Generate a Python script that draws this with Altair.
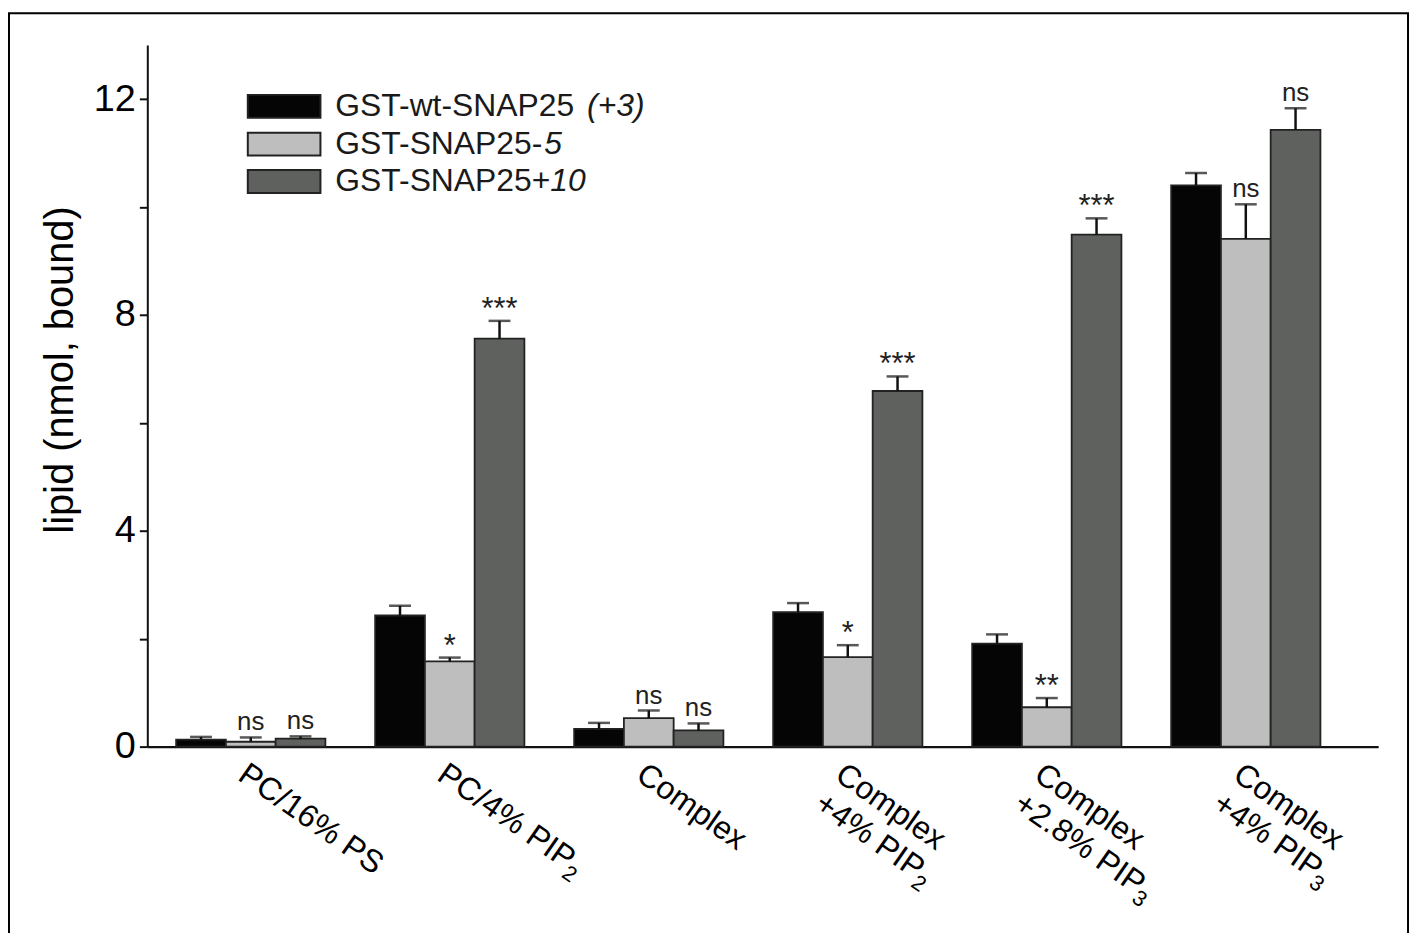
import altair as alt
import pandas as pd

# ---- data ----
groups = ["PC/16% PS", "PC/4% PIP2", "Complex", "Complex +4% PIP2",
          "Complex +2.8% PIP3", "Complex +4% PIP3"]
label_line1 = ["PC/16% PS", "PC/4% PIP", "Complex", "Complex", "Complex", "Complex"]
label_line2 = ["", "", "", "+4% PIP", "+2.8% PIP", "+4% PIP"]
label_sub = ["", "2", "", "2", "3", "3"]
label_sub_line = [0, 1, 0, 2, 2, 2]

series = ["GST-wt-SNAP25 (+3)", "GST-SNAP25-5", "GST-SNAP25+10"]
colors = ["#050505", "#bebebe", "#5f615f"]

values_wt = [0.13, 2.43, 0.33, 2.49, 1.91, 10.40]
err_wt = [0.05, 0.18, 0.11, 0.17, 0.17, 0.23]
values_m5 = [0.09, 1.58, 0.53, 1.66, 0.73, 9.41]
err_m5 = [0.08, 0.07, 0.14, 0.22, 0.17, 0.64]
values_p10 = [0.15, 7.56, 0.30, 6.59, 9.49, 11.43]
err_p10 = [0.04, 0.33, 0.13, 0.27, 0.30, 0.40]

sig_wt = ["", "", "", "", "", ""]
sig_m5 = ["ns", "*", "ns", "*", "**", "ns"]
sig_p10 = ["ns", "***", "ns", "***", "***", "ns"]

legend_main = ["GST-wt-SNAP25 ", "GST-SNAP25-", "GST-SNAP25+"]
legend_ital = ["(+3)", "5", "10"]

y_ticks = [0, 2, 4, 6, 8, 10, 12]

# ---- build table ----
rows = []
for s, vals, errs, sigs in zip(series, [values_wt, values_m5, values_p10],
                               [err_wt, err_m5, err_p10], [sig_wt, sig_m5, sig_p10]):
    for g, v, e, t in zip(groups, vals, errs, sigs):
        rows.append({"group": g, "series": s, "value": v, "top": v + e, "sig": t,
                     "star": t.startswith("*")})
df = pd.DataFrame(rows)

FONT = "Liberation Sans"
LABEL_FS = 32
LINE_H = 36
BASE1 = 25

# Arial / Liberation Sans advance widths (1/1000 em) for label layout
ADV = {"P": 667, "C": 722, "/": 278, "4": 556, "%": 889, " ": 278, "I": 278,
       "+": 584, "2": 556, ".": 278, "8": 556}


def text_width(s, fs):
    return sum(ADV.get(ch, 556) for ch in s) * fs / 1000.0


x_enc = alt.X(
    "group:N", sort=groups,
    scale=alt.Scale(domain=groups, paddingInner=0.25, paddingOuter=0.2175, align=0.333),
    axis=alt.Axis(title=None, ticks=False, labels=False, domainWidth=2.5,
                  domainColor="#111"),
)
xo_enc = alt.XOffset("series:N", sort=series,
                     scale=alt.Scale(domain=series, paddingInner=0, paddingOuter=0))
y_scale = alt.Scale(domain=[0, 13], nice=False, zero=True)

base = alt.Chart(df)

bars = base.mark_bar(stroke="#222", strokeWidth=1.8).encode(
    x=x_enc,
    xOffset=xo_enc,
    y=alt.Y("value:Q", scale=y_scale,
            axis=alt.Axis(values=y_ticks, grid=False,
                          labelExpr="datum.value % 4 == 0 ? datum.label : ''",
                          tickSize=8, tickWidth=2, tickColor="#111",
                          domainWidth=2, domainColor="#111",
                          labelFontSize=38, labelPadding=4, labelColor="#000",
                          labelFont=FONT,
                          title="lipid (nmol, bound)", titleFontSize=40,
                          titleFontWeight="normal", titleFont=FONT, titleColor="#000",
                          titleX=-75, titleY=326, titleAngle=270,
                          titleAlign="center", titleBaseline="alphabetic")),
    color=alt.Color("series:N", scale=alt.Scale(domain=series, range=colors), legend=None),
)

err_rule = base.mark_rule(strokeWidth=2.5, color="#111").encode(
    x=x_enc, xOffset=xo_enc,
    y=alt.Y("value:Q", scale=y_scale), y2="top:Q",
)
err_cap = base.mark_tick(orient="horizontal", size=22, thickness=2.5, color="#111").encode(
    x=x_enc, xOffset=xo_enc,
    y=alt.Y("top:Q", scale=y_scale),
)
ns_text = base.transform_filter("datum.sig == 'ns'").mark_text(
    baseline="alphabetic", dy=-7, fontSize=26, color="#222", font=FONT).encode(
    x=x_enc, xOffset=xo_enc, y=alt.Y("top:Q", scale=y_scale), text="sig:N",
)
star_text = base.transform_filter("datum.star").mark_text(
    baseline="alphabetic", dy=-2, fontSize=31, color="#222", font=FONT).encode(
    x=x_enc, xOffset=xo_enc, y=alt.Y("top:Q", scale=y_scale), text="sig:N",
)

one = pd.DataFrame({"a": [0]})
layers = [bars, err_rule, err_cap, ns_text, star_text]

# ---- rotated category labels (with subscripts) ----
ANG = 35
LAB_Y = 705 + 12
for i, g in enumerate(groups):
    gdf = pd.DataFrame({"group": [g]})
    lines = [label_line1[i], label_line2[i]]
    for k, txt in enumerate(lines):
        if not txt:
            continue
        layers.append(alt.Chart(gdf).mark_text(
            angle=ANG, align="left", baseline="alphabetic", fontSize=LABEL_FS,
            font=FONT, color="#000", dy=BASE1 + k * LINE_H, dx=0).encode(
            x=x_enc, y=alt.value(LAB_Y), text=alt.value(txt)))
    if label_sub[i]:
        k = label_sub_line[i] - 1
        layers.append(alt.Chart(gdf).mark_text(
            angle=ANG, align="left", baseline="alphabetic", fontSize=22,
            font=FONT, color="#000",
            dx=text_width(lines[k], LABEL_FS) - 1,
            dy=BASE1 + k * LINE_H + 8).encode(
            x=x_enc, y=alt.value(LAB_Y), text=alt.value(label_sub[i])))

# ---- hand-built legend (mixed upright / italic text) ----
row_y = [61.5, 99.5, 137]
ital_x = [442, 399, 405]
for i in range(3):
    layers.append(alt.Chart(one).mark_rect(stroke="#222", strokeWidth=2).encode(
        x=alt.value(101), x2=alt.value(174),
        y=alt.value(row_y[i] - 11.5), y2=alt.value(row_y[i] + 11.5),
        color=alt.value(colors[i])))
    layers.append(alt.Chart(one).mark_text(align="left", baseline="middle", fontSize=32,
                                           font=FONT, color="#1a1a1a").encode(
        x=alt.value(189), y=alt.value(row_y[i]), text=alt.value(legend_main[i])))
    layers.append(alt.Chart(one).mark_text(align="left", baseline="middle", fontSize=32,
                                           font=FONT, fontStyle="italic",
                                           color="#1a1a1a").encode(
        x=alt.value(ital_x[i]), y=alt.value(row_y[i]), text=alt.value(legend_ital[i])))

# outer frame
layers.append(alt.Chart(one).mark_rect(fillOpacity=0, stroke="#000", strokeWidth=2).encode(
    x=alt.value(-139), x2=alt.value(1267), y=alt.value(-32), y2=alt.value(920)))

chart = alt.layer(*layers).properties(
    width=1237, height=705,
    autosize=alt.AutoSizeParams(type="none"),
    padding={"left": 140, "top": 35, "right": 33, "bottom": 185},
).configure(font=FONT, background="white").configure_view(stroke=None)

chart.save("out.html", embed_options={"renderer": "svg", "actions": False})
